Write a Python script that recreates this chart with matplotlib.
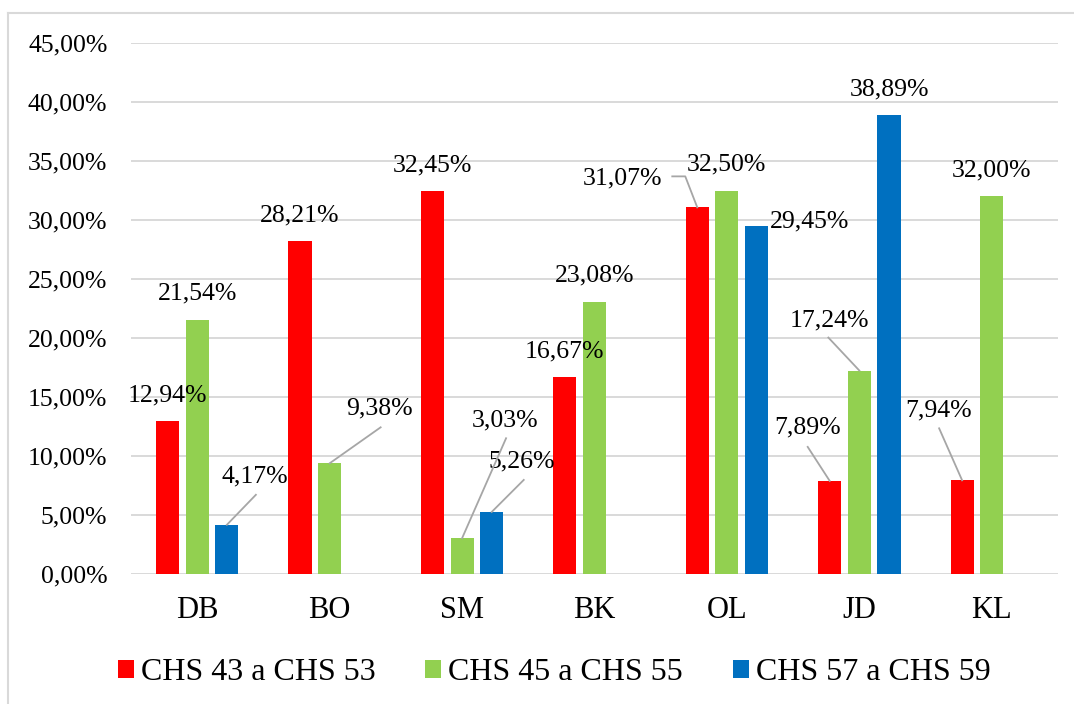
import matplotlib
matplotlib.use("Agg")
import matplotlib.pyplot as plt
from matplotlib.lines import Line2D
from matplotlib.patches import Patch
from matplotlib.ticker import FuncFormatter, MultipleLocator

# ---- data -------------------------------------------------------------
categories = ["DB", "BO", "SM", "BK", "OL", "JD", "KL"]
series_names = ["CHS 43 a CHS 53", "CHS 45 a CHS 55", "CHS 57 a CHS 59"]
chs_43_53 = [12.94, 28.21, 32.45, 16.67, 31.07, 7.89, 7.94]
chs_45_55 = [21.54, 9.38, 3.03, 23.08, 32.50, 17.24, 32.00]
chs_57_59 = [4.17, None, 5.26, None, 29.45, 38.89, None]
colors = ["#FF0000", "#92D050", "#0070C0"]

# label placement: (series, category) -> (dx, dy) in pixels from the bar top
# optional leader line: list of pixel offsets from the bar top
label_offsets = {
    (2, 0): ((28, -48), [(29, -30), (0, 0)]),
    (1, 1): ((50, -55), [(51, -36), (0, 0)]),
    (1, 2): ((43, -118), [(44, -100), (0, 0)]),
    (2, 2): ((30, -50), [(32, -32), (0, 0)]),
    (0, 4): ((-75, -29), [(-25, -31), (-12, -31), (0, 0)]),
    (2, 4): ((53, -5), None),
    (0, 5): ((-22, -53), [(-22, -34), (0, 0)]),
    (1, 5): ((-30, -50), [(-31, -33), (0, 0)]),
    (0, 6): ((-24, -70), [(-23, -52), (0, 0)]),
}
default_offset = (0, -26)

W, H, DPI = 1074, 704, 100
plt.rcParams["font.family"] = ["Liberation Serif", "DejaVu Serif"]

fig = plt.figure(figsize=(W / DPI, H / DPI), dpi=DPI)
fig.patch.set_facecolor("white")

x0, x1, ytop, ybot = 131, 1058, 43, 574
ax = fig.add_axes([x0 / W, 1 - ybot / H, (x1 - x0) / W, (ybot - ytop) / H])

n = len(categories)
bar_w = 0.174
stride = 0.224
series = [chs_43_53, chs_45_55, chs_57_59]

ax.set_xlim(-0.5, n - 0.5)
ax.set_ylim(0, 45)

for s, vals in enumerate(series):
    xs = [i + (s - 1) * stride for i, v in enumerate(vals) if v is not None]
    vs = [v for v in vals if v is not None]
    ax.bar(xs, vs, width=bar_w, color=colors[s], zorder=3, linewidth=0)

# gridlines and axes styling
ax.yaxis.set_major_locator(MultipleLocator(5))
ax.yaxis.set_major_formatter(FuncFormatter(lambda v, p: f"{v:.2f}".replace(".", ",") + "%"))
ax.grid(axis="y", color="#D9D9D9", linewidth=1.4, zorder=0)
ax.set_axisbelow(True)
for sp in ax.spines.values():
    sp.set_visible(False)
ax.set_xticks(range(n))
ax.set_xticklabels(categories)
ax.tick_params(axis="y", length=0, pad=17, labelsize=18.5)
ax.tick_params(axis="x", length=0, pad=16, labelsize=22)

# value labels
fig.canvas.draw()
to_px = ax.transData.transform
for s, vals in enumerate(series):
    for i, v in enumerate(vals):
        if v is None:
            continue
        bx = i + (s - 1) * stride
        px, py = to_px((bx, v))
        (dx, dy), leader = label_offsets.get((s, i), (default_offset, None))
        label = f"{v:.2f}".replace(".", ",") + "%"
        ax.annotate(label, xy=(bx, v), xytext=(dx, -dy), textcoords="offset pixels",
                    ha="center", va="center", fontsize=18.5, zorder=5)
        if leader:
            lx = [px + ox for ox, oy in leader]
            ly = [py - oy for ox, oy in leader]
            fig.add_artist(Line2D(lx, ly, transform=None, color="#A6A6A6",
                                  linewidth=1.3, zorder=4))

# legend
handles = [Patch(facecolor=c, edgecolor="none") for c in colors]
fig.legend(handles, series_names, loc="center left",
           bbox_to_anchor=(118 / W, 1 - 673 / H), ncol=3, frameon=False,
           fontsize=23, handlelength=0.5, handleheight=0.5,
           handletextpad=0.22, columnspacing=1.55, borderpad=0, borderaxespad=0)

# chart frame
fc = "#D9D9D9"
fig.add_artist(Line2D([8.3 / W, 8.3 / W], [0, 1 - 13 / H], color=fc, linewidth=1.5))
fig.add_artist(Line2D([8.3 / W, 1], [1 - 13 / H, 1 - 13 / H], color=fc, linewidth=1.5))

fig.savefig("out.png", dpi=DPI)
